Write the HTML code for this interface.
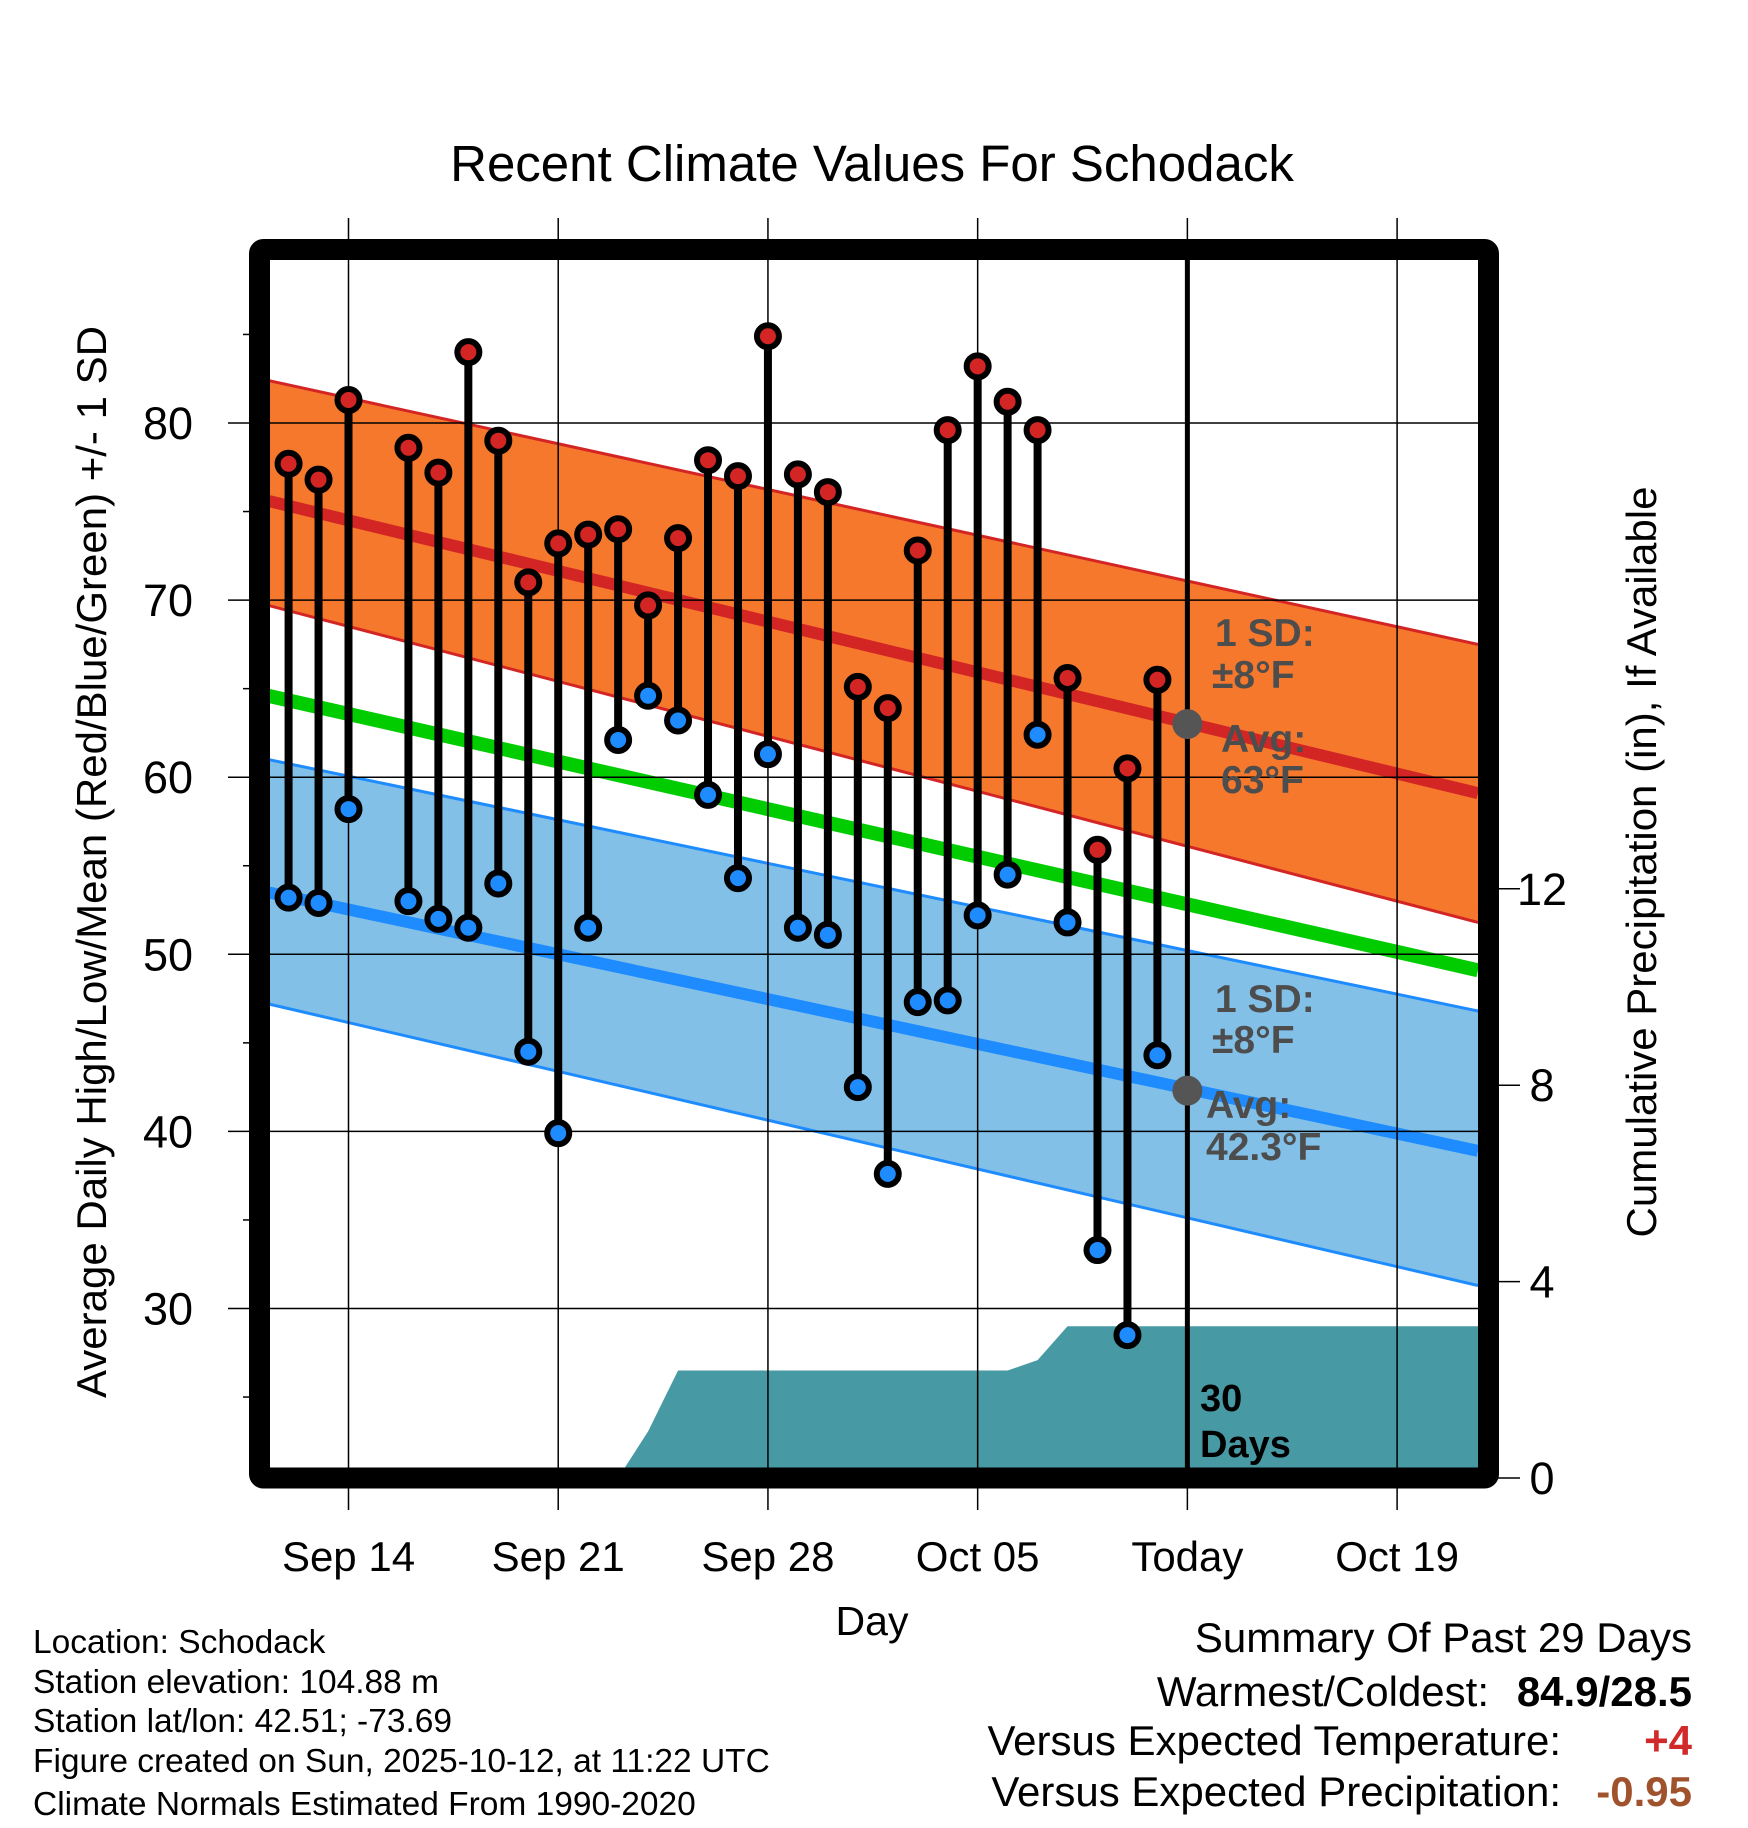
<!DOCTYPE html>
<html><head><meta charset="utf-8"><style>
html,body{margin:0;padding:0;background:#fff;}
svg{display:block;font-family:"Liberation Sans",Arial,sans-serif;}
</style></head><body>
<svg id="chart" width="1748" height="1828" viewBox="0 0 1748 1828" xmlns="http://www.w3.org/2000/svg">
<text x="872" y="181" font-size="51" text-anchor="middle">Recent Climate Values For Schodack</text>
<g id="plot"></g>
<text x="872" y="1635" font-size="41" text-anchor="middle">Day</text>
<text transform="translate(106,862) rotate(-90)" font-size="42" text-anchor="middle">Average Daily High/Low/Mean (Red/Blue/Green) +/- 1 SD</text>
<text transform="translate(1656,862) rotate(-90)" font-size="42" text-anchor="middle">Cumulative Precipitation (in), If Available</text>
<g font-size="33.5">
<text x="33" y="1653">Location: Schodack</text>
<text x="33" y="1693">Station elevation: 104.88 m</text>
<text x="33" y="1732">Station lat/lon: 42.51; -73.69</text>
<text x="33" y="1772">Figure created on Sun, 2025-10-12, at 11:22 UTC</text>
<text x="33" y="1815">Climate Normals Estimated From 1990-2020</text>
</g>
<g font-size="42" text-anchor="end">
<text x="1692" y="1652">Summary Of Past 29 Days</text>
<text x="1489" y="1706">Warmest/Coldest:</text>
<text x="1692" y="1706" font-weight="bold">84.9/28.5</text>
<text x="1561" y="1755">Versus Expected Temperature:</text>
<text x="1692" y="1755" font-weight="bold" fill="#d02a2a">+4</text>
<text x="1561" y="1806">Versus Expected Precipitation:</text>
<text x="1692" y="1806" font-weight="bold" fill="#a0522d">-0.95</text>
</g>
</svg>
<script>
// day offsets relative to Sep 14 (0)
const days = [-2,-1,0,2,3,4,5,6,7,8,9,10,11,12,13,14,15,16,17,18,19,20,21,22,23,24,25,26,27];
const highs = [77.7,76.8,81.3,78.6,77.2,84.0,79.0,71.0,73.2,73.7,74.0,69.7,73.5,77.9,77.0,84.9,77.1,76.1,65.1,63.9,72.8,79.6,83.2,81.2,79.6,65.6,55.9,60.5,65.5];
const lows  = [53.2,52.9,58.2,53.0,52.0,51.5,54.0,44.5,39.9,51.5,62.1,64.6,63.2,59.0,54.3,61.3,51.5,51.1,42.5,37.6,47.3,47.4,52.2,54.5,62.4,51.8,33.3,28.5,44.3];
const precipDays = [9,10,11,22,23,24,38];
const precipVals = [0,0.95,2.19,2.19,2.4,3.09,3.09];
const normDays = [-2.68,37.7];
const highMean = [75.6,59.1];
const highUpper = [82.4,67.5];
const highLower = [69.7,51.8];
const avgMean = [64.6,49.1];
const lowMean = [53.5,38.9];
const lowUpper = [61.0,46.8];
const lowLower = [47.2,31.3];
const yTicks = [30,40,50,60,70,80];
const yMinor = [25,35,45,55,65,75,85];
const pTicks = [0,4,8,12];
const xTickDays = [0,7,14,21,28,35];
const xTickLabels = ['Sep 14','Sep 21','Sep 28','Oct 05','Today','Oct 19'];
const todayDay = 28;
const todayHigh = 63, todayLow = 42.3;

const X = d => 348.5 + 29.96*d;
const Y = v => 423 + (80 - v)*17.71;
const P = p => 1478 - p*49.1;
const L = 270, R = 1478, T = 260, B = 1468;
const NS = 'http://www.w3.org/2000/svg';
const g = document.getElementById('plot');
function mk(tag, attrs, parent){const e=document.createElementNS(NS,tag);for(const k in attrs)e.setAttribute(k,attrs[k]);(parent||g).appendChild(e);return e;}

const defs = mk('defs',{});
const cp = mk('clipPath',{id:'clip'},defs);
mk('rect',{x:L,y:T,width:R-L,height:B-T},cp);
const inner = mk('g',{'clip-path':'url(#clip)'});



function band(up, lo, fill, edge, name){
  const pts = `${X(normDays[0])},${Y(up[0])} ${X(normDays[1])},${Y(up[1])} ${X(normDays[1])},${Y(lo[1])} ${X(normDays[0])},${Y(lo[0])}`;
  const p = mk('polygon',{points:pts,fill:fill},inner);
  
  
  [up,lo].forEach(a=>{mk('line',{x1:X(normDays[0]),y1:Y(a[0]),x2:X(normDays[1]),y2:Y(a[1]),stroke:edge,'stroke-width':3},inner);});
}
band(highUpper, highLower, '#f5782d', '#d42525', 'high-sd-band');
band(lowUpper, lowLower, '#82c0e8', '#1e8cff', 'low-sd-band');

yTicks.forEach(v=>{const l=mk('line',{x1:228,y1:Y(v),x2:1499,y2:Y(v),stroke:'#000','stroke-width':1.5});

});
yMinor.forEach(v=>{mk('line',{x1:243,y1:Y(v),x2:250,y2:Y(v),stroke:'#000','stroke-width':1.5});});
xTickDays.forEach(d=>{const l=mk('line',{x1:X(d),y1:218,x2:X(d),y2:1510,stroke:'#000','stroke-width':1.5});

});
pTicks.forEach(p=>{mk('line',{x1:1488,y1:P(p),x2:1520,y2:P(p),stroke:'#000','stroke-width':1.5});});

let pp = `${X(precipDays[0])},${B} `;
precipDays.forEach((d,i)=>{pp += `${X(d)},${P(precipVals[i])} `;});
pp += `${X(precipDays[precipDays.length-1])},${B}`;
const pa = mk('polygon',{points:pp,fill:'#4799a3'},inner);



function mline(a,col,w,name){const l=mk('line',{x1:X(normDays[0]),y1:Y(a[0]),x2:X(normDays[1]),y2:Y(a[1]),stroke:col,'stroke-width':w},inner);

}
mline(highMean,'#d42525',12,'high-normal-line');
mline(avgMean,'#00cc00',14,'mean-normal-line');
mline(lowMean,'#1e8cff',12,'low-normal-line');

const tl = mk('line',{x1:X(todayDay),y1:T-10,x2:X(todayDay),y2:B,stroke:'#000','stroke-width':5});



days.forEach((d,i)=>{
  const l = mk('line',{x1:X(d),y1:Y(highs[i]),x2:X(d),y2:Y(lows[i]),stroke:'#000','stroke-width':8});
  
  
  const h = mk('circle',{cx:X(d),cy:Y(highs[i]),r:11,fill:'#d42525',stroke:'#000','stroke-width':6});
  
  
  const lo = mk('circle',{cx:X(d),cy:Y(lows[i]),r:11,fill:'#1e8cff',stroke:'#000','stroke-width':6});
  
  
});
[todayHigh,todayLow].forEach(v=>{const c=mk('circle',{cx:X(todayDay),cy:Y(v),r:15,fill:'#555'});

});

const fr = mk('rect',{x:259.5,y:249.5,width:1229,height:1228.5,fill:'none',stroke:'#000','stroke-width':21,rx:4});



function txt(s,x,y,attrs,name){const t=mk('text',Object.assign({x:x,y:y},attrs));t.textContent=s;

return t;}
yTicks.forEach(v=>txt(String(v),193,Y(v)+16,{'font-size':45,'text-anchor':'end'},'y-tick-label'));
pTicks.forEach(p=>txt(String(p),1542,P(p)+16,{'font-size':45,'text-anchor':'middle'},'y2-tick-label'));
xTickDays.forEach((d,i)=>txt(xTickLabels[i],X(d),1571,{'font-size':42,'text-anchor':'middle'},'x-tick-label'));
const ann = {'font-size':39,'font-weight':'bold',fill:'#4d4d4d'};
txt('1 SD:',1215,646,ann,'high-sd-label');
txt('±8°F',1212,688,ann,'high-sd-value');
txt('Avg:',1221,752,ann,'high-avg-label');
txt('63°F',1221,793,ann,'high-avg-value');
txt('1 SD:',1215,1012,ann,'low-sd-label');
txt('±8°F',1212,1053,ann,'low-sd-value');
txt('Avg:',1206,1118,ann,'low-avg-label');
txt('42.3°F',1206,1160,ann,'low-avg-value');
txt('30',1200,1411,{'font-size':38,'font-weight':'bold'},'days-count-label');
txt('Days',1200,1457,{'font-size':38,'font-weight':'bold'},'days-text-label');
</script>
</body></html>
